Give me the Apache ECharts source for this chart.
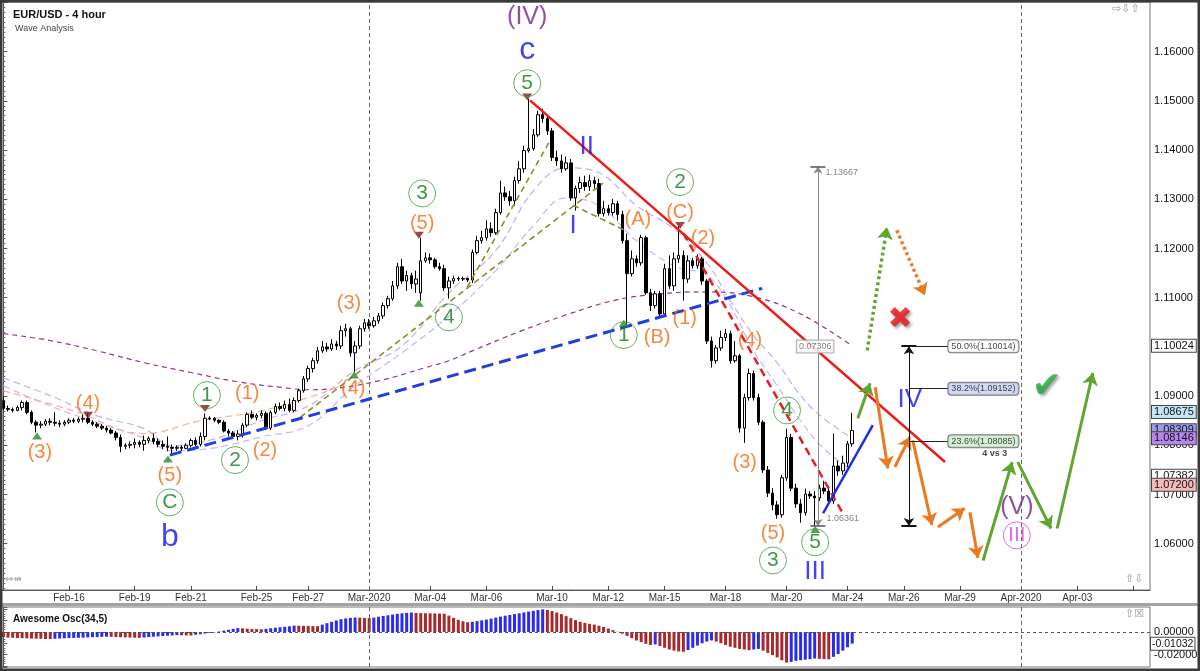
<!DOCTYPE html>
<html>
<head>
<meta charset="utf-8">
<title>EUR/USD - 4 hour</title>
<script src="https://cdn.jsdelivr.net/npm/echarts@6/dist/echarts.min.js"></script>
<style>
  html, body { margin: 0; padding: 0; background: #fff; }
  #chart { width: 1200px; height: 671px; }
</style>
</head>
<body>
<div id="chart"></div>
<script>
// ---- data ----
const N_BARS = 245; // 4-hour slots on the time axis (incl. empty future part)

// date labels: [bar index, label]
const dateTicks = [
  [14, 'Feb-16'], [28, 'Feb-19'], [40, 'Feb-21'], [54, 'Feb-25'], [65, 'Feb-27'],
  [78, 'Mar-2020'], [91, 'Mar-04'], [103, 'Mar-06'], [117, 'Mar-10'], [129, 'Mar-12'],
  [141, 'Mar-15'], [154, 'Mar-18'], [167, 'Mar-20'], [180, 'Mar-24'], [192, 'Mar-26'],
  [204, 'Mar-29'], [217, 'Apr-2020'], [229, 'Apr-03'], [241, '']
];
const monthStarts = [78, 217];

// candles: [open, close, low, high]
const candles = [
  [1.0891,1.0875,1.0871,1.0899],[1.0875,1.0873,1.0869,1.0881],[1.0873,1.0871,1.0867,1.0877],[1.0871,1.0877,1.0869,1.0881],
  [1.0877,1.0887,1.0871,1.0891],[1.0887,1.0867,1.0863,1.0891],[1.0867,1.0847,1.0843,1.0871],[1.0847,1.0841,1.0826,1.0851],
  [1.0841,1.0843,1.0835,1.0849],[1.0843,1.0849,1.0839,1.0853],[1.0849,1.0847,1.0841,1.0855],[1.0847,1.0845,1.0839,1.0867],
  [1.0845,1.0843,1.0837,1.0851],[1.0843,1.0847,1.0839,1.0851],[1.0847,1.0851,1.0843,1.0855],[1.0851,1.0849,1.0845,1.0855],
  [1.0849,1.0853,1.0845,1.0857],[1.0853,1.0855,1.0847,1.0863],[1.0855,1.0847,1.0843,1.0865],[1.0847,1.0843,1.0839,1.0851],
  [1.0843,1.0839,1.0835,1.0847],[1.0839,1.0835,1.0831,1.0843],[1.0835,1.0831,1.0826,1.0839],[1.0831,1.0825,1.0822,1.0835],
  [1.0825,1.0816,1.0810,1.0829],[1.0816,1.0798,1.0786,1.0822],[1.0798,1.0800,1.0792,1.0804],[1.0800,1.0802,1.0794,1.0808],
  [1.0802,1.0806,1.0794,1.0814],[1.0806,1.0802,1.0796,1.0810],[1.0802,1.0810,1.0789,1.0820],[1.0810,1.0814,1.0804,1.0818],
  [1.0814,1.0808,1.0802,1.0824],[1.0808,1.0802,1.0796,1.0814],[1.0802,1.0798,1.0792,1.0810],[1.0798,1.0796,1.0788,1.0818],
  [1.0796,1.0794,1.0780,1.0802],[1.0794,1.0796,1.0789,1.0800],[1.0796,1.0794,1.0788,1.0800],[1.0794,1.0800,1.0792,1.0804],
  [1.0800,1.0810,1.0796,1.0814],[1.0810,1.0802,1.0798,1.0816],[1.0802,1.0818,1.0798,1.0826],[1.0818,1.0855,1.0810,1.0865],
  [1.0855,1.0854,1.0851,1.0859],[1.0855,1.0851,1.0847,1.0857],[1.0851,1.0847,1.0843,1.0853],[1.0847,1.0829,1.0826,1.0851],
  [1.0829,1.0825,1.0818,1.0833],[1.0825,1.0818,1.0813,1.0829],[1.0818,1.0823,1.0810,1.0831],[1.0823,1.0841,1.0816,1.0845],
  [1.0841,1.0863,1.0837,1.0867],[1.0863,1.0857,1.0853,1.0871],[1.0857,1.0861,1.0851,1.0865],[1.0861,1.0865,1.0855,1.0871],
  [1.0865,1.0835,1.0831,1.0869],[1.0835,1.0867,1.0831,1.0871],[1.0867,1.0879,1.0863,1.0885],[1.0879,1.0875,1.0871,1.0887],
  [1.0875,1.0883,1.0869,1.0891],[1.0883,1.0871,1.0867,1.0895],[1.0871,1.0891,1.0867,1.0897],[1.0891,1.0911,1.0887,1.0915],
  [1.0911,1.0935,1.0907,1.0941],[1.0935,1.0956,1.0929,1.0962],[1.0956,1.0972,1.0948,1.0978],[1.0972,1.0992,1.0966,1.1000],
  [1.0992,1.1000,1.0988,1.1012],[1.1000,1.0996,1.0990,1.1008],[1.0996,1.1006,1.0992,1.1016],[1.1006,1.1002,1.0994,1.1012],
  [1.1002,1.1033,1.0996,1.1043],[1.1033,1.1037,1.1021,1.1047],[1.1037,1.0988,1.0980,1.1041],[1.0988,1.1002,1.0948,1.1012],
  [1.1002,1.1037,1.0996,1.1043],[1.1037,1.1049,1.1031,1.1057],[1.1049,1.1043,1.1037,1.1057],[1.1043,1.1053,1.1039,1.1061],
  [1.1053,1.1063,1.1047,1.1069],[1.1063,1.1084,1.1057,1.1090],[1.1084,1.1098,1.1078,1.1104],[1.1098,1.1124,1.1094,1.1134],
  [1.1124,1.1163,1.1118,1.1171],[1.1163,1.1134,1.1128,1.1179],[1.1134,1.1145,1.1114,1.1155],[1.1145,1.1128,1.1118,1.1151],
  [1.1128,1.1138,1.1110,1.1155],[1.1110,1.1175,1.1094,1.1222],[1.1175,1.1181,1.1171,1.1192],[1.1181,1.1177,1.1169,1.1190],
  [1.1177,1.1163,1.1159,1.1181],[1.1163,1.1159,1.1155,1.1171],[1.1159,1.1120,1.1114,1.1167],[1.1120,1.1134,1.1098,1.1143],
  [1.1134,1.1139,1.1128,1.1145],[1.1139,1.1138,1.1134,1.1143],[1.1138,1.1139,1.1134,1.1143],[1.1139,1.1136,1.1132,1.1141],
  [1.1136,1.1192,1.1130,1.1198],[1.1192,1.1216,1.1188,1.1226],[1.1216,1.1222,1.1210,1.1236],[1.1222,1.1240,1.1216,1.1257],
  [1.1240,1.1232,1.1224,1.1253],[1.1232,1.1273,1.1228,1.1281],[1.1273,1.1313,1.1269,1.1338],[1.1313,1.1305,1.1297,1.1326],
  [1.1305,1.1297,1.1287,1.1317],[1.1297,1.1338,1.1287,1.1346],[1.1338,1.1362,1.1332,1.1378],[1.1362,1.1399,1.1354,1.1409],
  [1.1399,1.1403,1.1395,1.1504],[1.1403,1.1431,1.1399,1.1443],[1.1431,1.1472,1.1427,1.1480],[1.1472,1.1464,1.1456,1.1484],
  [1.1464,1.1439,1.1431,1.1472],[1.1439,1.1385,1.1378,1.1445],[1.1385,1.1378,1.1368,1.1399],[1.1378,1.1362,1.1354,1.1391],
  [1.1362,1.1374,1.1358,1.1387],[1.1374,1.1303,1.1297,1.1382],[1.1303,1.1322,1.1277,1.1328],[1.1322,1.1334,1.1313,1.1346],
  [1.1334,1.1326,1.1317,1.1348],[1.1326,1.1338,1.1317,1.1350],[1.1338,1.1332,1.1322,1.1346],[1.1332,1.1271,1.1265,1.1342],
  [1.1271,1.1281,1.1265,1.1297],[1.1281,1.1273,1.1267,1.1289],[1.1273,1.1291,1.1267,1.1301],[1.1291,1.1269,1.1257,1.1297],
  [1.1269,1.1216,1.1210,1.1277],[1.1216,1.1149,1.1043,1.1230],[1.1149,1.1179,1.1143,1.1196],[1.1179,1.1171,1.1163,1.1186],
  [1.1171,1.1222,1.1165,1.1228],[1.1222,1.1110,1.1106,1.1226],[1.1110,1.1084,1.1073,1.1118],[1.1084,1.1108,1.1078,1.1114],
  [1.1108,1.1067,1.1061,1.1114],[1.1067,1.1159,1.1061,1.1169],[1.1159,1.1124,1.1118,1.1186],[1.1124,1.1179,1.1114,1.1192],
  [1.1179,1.1186,1.1171,1.1246],[1.1186,1.1138,1.1094,1.1196],[1.1138,1.1175,1.1130,1.1186],[1.1175,1.1165,1.1159,1.1181],
  [1.1165,1.1179,1.1159,1.1188],[1.1179,1.1134,1.1126,1.1183],[1.1134,1.1012,1.1006,1.1138],[1.1012,1.0972,1.0958,1.1021],
  [1.0972,1.0998,1.0966,1.1004],[1.0998,1.1019,1.0992,1.1033],[1.1019,1.1027,1.1012,1.1037],[1.1027,1.0972,1.0966,1.1033],
  [1.0972,1.0982,1.0968,1.1012],[1.0982,1.0835,1.0826,1.0986],[1.0835,1.0897,1.0805,1.0905],[1.0897,1.0946,1.0891,1.0956],
  [1.0946,1.0897,1.0891,1.0952],[1.0897,1.0847,1.0841,1.0905],[1.0847,1.0750,1.0744,1.0851],[1.0750,1.0703,1.0695,1.0758],
  [1.0703,1.0679,1.0668,1.0713],[1.0679,1.0659,1.0651,1.0687],[1.0659,1.0734,1.0653,1.0740],[1.0734,1.0816,1.0728,1.0834],
  [1.0816,1.0713,1.0707,1.0823],[1.0713,1.0681,1.0673,1.0722],[1.0681,1.0663,1.0643,1.0691],[1.0663,1.0701,1.0657,1.0712],
  [1.0701,1.0697,1.0691,1.0707],[1.0697,1.0693,1.0636,1.0707],[1.0693,1.0713,1.0687,1.0720],[1.0713,1.0707,1.0701,1.0728],
  [1.0707,1.0687,1.0681,1.0716],[1.0687,1.0758,1.0681,1.0824],[1.0758,1.0748,1.0738,1.0769],[1.0748,1.0764,1.0740,1.0779],
  [1.0764,1.0803,1.0756,1.0809],[1.0803,1.0830,1.0797,1.0866]
];

// Awesome Oscillator (34,5), one value per candle
const aoValues = [
  -0.0045,-0.0050,-0.0052,-0.0054,-0.0055,-0.0056,-0.0058,-0.0059,-0.0060,-0.0062,-0.0063,
  -0.0060,-0.0058,-0.0056,-0.0054,-0.0053,-0.0052,-0.0050,-0.0048,-0.0046,-0.0045,-0.0043,-0.0042,
  -0.0043,-0.0045,-0.0047,-0.0048,-0.0050,-0.0051,-0.0052,
  -0.0049,-0.0045,-0.0042,-0.0039,-0.0036,-0.0033,-0.0030,-0.0028,
  -0.0029,-0.0030,-0.0031,
  -0.0025,-0.0020,-0.0014,-0.0008,-0.0003,0.0004,0.0012,
  0.0020,0.0028,0.0034,
  0.0032,0.0029,0.0026,0.0025,0.0024,
  0.0028,0.0033,0.0038,0.0042,0.0046,0.0050,0.0056,
  0.0055,0.0054,0.0053,0.0052,0.0051,
  0.0065,0.0078,0.0090,0.0102,0.0113,0.0120,0.0125,0.0128,
  0.0126,0.0124,0.0123,
  0.0128,0.0135,0.0142,0.0148,0.0154,0.0160,0.0165,0.0169,0.0172,
  0.0169,0.0167,0.0166,0.0165,0.0164,0.0163,0.0162,
  0.0145,0.0125,0.0108,0.0095,0.0086,
  0.0090,0.0096,0.0103,0.0110,0.0118,0.0127,0.0136,0.0144,0.0150,
  0.0158,0.0165,0.0173,0.0180,0.0187,0.0194,0.0200,
  0.0195,0.0186,0.0172,0.0158,0.0140,0.0122,0.0105,0.0090,0.0080,0.0072,
  0.0065,0.0055,0.0045,0.0030,0.0016,
  0.0002,-0.0015,-0.0035,-0.0055,-0.0075,-0.0090,-0.0105,-0.0115,
  -0.0110,
  -0.0125,-0.0140,-0.0155,-0.0165,-0.0172,-0.0175,
  -0.0160,-0.0140,-0.0120,-0.0100,-0.0085,-0.0075,
  -0.0085,-0.0100,-0.0115,-0.0130,-0.0140,-0.0150,-0.0155,-0.0160,
  -0.0155,-0.0150,
  -0.0165,-0.0185,-0.0205,-0.0225,-0.0250,-0.0270,
  -0.0265,-0.0255,-0.0250,-0.0245,-0.0240,-0.0235,
  -0.0238,-0.0240,-0.0242,
  -0.0220,-0.0195,-0.0165,-0.0135,-0.01032
];

// moving averages, read at selected candles: [bar, price]
const maSlow = [[0,1.1027],[10,1.1013],[20,1.0992],[30,1.0968],[40,1.0948],[50,1.0929],[60,1.0917],[65,1.0913],
  [70,1.0915],[80,1.0931],[90,1.0958],[95,1.0972],[100,1.0992],[110,1.1031],[120,1.1065],[130,1.1094],[140,1.1108],
  [150,1.1112],[160,1.1102],[170,1.1067],[181,1.1002]];
const maFast = [[0,1.0937],[10,1.0901],[20,1.0860],[30,1.0834],[36,1.0799],[45,1.0813],[55,1.0850],[65,1.0880],
  [75,1.0952],[85,1.1002],[95,1.1110],[105,1.1196],[113,1.1317],[120,1.1364],[127,1.1354],[135,1.1287],[143,1.1240],
  [150,1.1171],[155,1.1094],[160,1.1023],[165,1.0968],[170,1.0901],[175,1.0854],[181,1.0815]];
const maMid = [[0,1.0921],[10,1.0880],[20,1.0846],[30,1.0815],[36,1.0789],[45,1.0795],[55,1.0817],[65,1.0840],
  [75,1.0921],[85,1.0988],[95,1.1063],[105,1.1155],[113,1.1246],[120,1.1303],[127,1.1287],[135,1.1216],[143,1.1165],
  [150,1.1145],[155,1.1084],[160,1.0992],[165,1.0921],[170,1.0850],[175,1.0793],[181,1.0748]];
const maBand = [[0,1.0911],[15,1.0870],[30,1.0824],[42,1.0850],[55,1.0870],[65,1.0897],[72,1.0921]];

// price tags on the right scale
const priceTags = [1.10024, 1.08675, 1.08309, 1.08146, 1.07382, 1.07200];
const tagFills = ['#ffffff', '#c4e6f6', '#9d9cf2', '#b486ee', '#ffffff', '#f5b9b9'];

// wave labels: [bar, price, text]
const orangeWaves = [
  [7.8,1.0786,'(3)'],[18.05,1.0886,'(4)'],[35.5,1.0739,'(5)'],[52.0,1.0906,'(1)'],[55.8,1.0790,'(2)'],
  [73.7,1.1089,'(3)'],[74.6,1.0916,'(4)'],[89.3,1.1251,'(5)'],[135.3,1.1258,'(A)'],[139.4,1.1020,'(B)'],
  [144.3,1.1274,'(C)'],[145.3,1.1058,'(1)'],[149.2,1.1221,'(2)'],[158.1,1.0766,'(3)'],[159.2,1.1014,'(4)'],
  [164.1,1.0621,'(5)']
];
const greenWaves = [
  [35.5,1.0684,'C'],[43.4,1.0902,'1'],[49.4,1.0770,'2'],[89.3,1.1312,'3'],[95.0,1.1060,'4'],
  [111.7,1.1536,'5'],[132.3,1.1024,'1'],[144.3,1.1335,'2'],[164.1,1.0566,'3'],[167.1,1.0871,'4'],
  [173.1,1.0603,'5']
];
const blueLetters = [[35.5,1.0613,'b'],[111.7,1.1603,'c']];
const blueNumerals = [[121.5,1.1247,'I'],[124.4,1.1406,'II'],[173.1,1.0542,'III'],[193.3,1.0892,'IV']];
const purpleWaves = [[111.7,1.1670,'(IV)'],[216.1,1.0674,'(V)']];
const magentaWaves = [[216.1,1.0617,'III']];
const lowMarks = [[7.2,1.0819],[35.1,1.0772],[74.8,1.0943],[88.6,1.1089],[132.3,1.1048],[173.1,1.0629]];
const highMarks = [[18.05,1.0861],[43.0,1.0875],[88.6,1.1227],[111.7,1.1508],[144.3,1.1247]];

// drawn lines: each segment [[bar, price], [bar, price]]
const blueDashed = [[[35.5,1.0780],[161.8,1.1119]]];
const redSolid = [[[112.3,1.1501],[200.8,1.0766]]];
const redDashed = [[[145.0,1.1231],[179.0,1.0662]]];
const blueSolid = [[[174.8,1.0662],[185.4,1.0841]]];
const oliveDashed = [[[63.3,1.0857],[127.9,1.1333]],[[98.9,1.1121],[116.6,1.1420]],[[121.5,1.1288],[132.5,1.1237]]];
const greenDotted = [[[184.2,1.0993],[188.4,1.1243]]];
const orangeDotted = [[[190.5,1.1237],[196.5,1.1105]]];
const orangeArrows = [
  [[185.9,1.0918],[188.6,1.0753]],[[190.1,1.0756],[193.3,1.0817]],[[193.9,1.0810],[198.0,1.0638]],
  [[199.3,1.0634],[205.0,1.0672]],[[206.1,1.0664],[207.8,1.0571]]
];
const greenArrows = [
  [[182.2,1.0855],[184.8,1.0926]],[[208.9,1.0566],[215.1,1.0766]],[[216.3,1.0766],[223.4,1.0631]],
  [[224.7,1.0631],[232.3,1.0947]]
];

// swing measured for the fibonacci tool
const swingHigh = 1.13667, swingLow = 1.06361;
const fibRatios = [0.5, 0.382, 0.236];
const fibFills = ['#ffffff', '#c9d0f3', '#cdeccd'];
const measureBar = 173.7, fibBar = 193.1;

// ---- build chart ----
const FONT = '"Liberation Sans", Arial, sans-serif';
const tickMap = new Map(dateTicks);
const categories = Array.from({ length: N_BARS }, (_, i) => String(i));
const onStep = (v, step) => Math.abs(v / step - Math.round(v / step)) < 1e-6;

function segs(name, data, color, width, type, arrow, size) {
  return {
    type: 'lines', name, coordinateSystem: 'cartesian2d', xAxisIndex: 1, yAxisIndex: 0,
    silent: true, z: 5,
    symbol: arrow || ['none', 'none'], symbolSize: size || 11,
    lineStyle: { color, width, type, opacity: 1, curveness: 0 },
    data: data.map(s => ({ coords: s }))
  };
}

function textSeries(name, data, color, size, labelExtra) {
  return {
    type: 'scatter', name, xAxisIndex: 1, yAxisIndex: 0, silent: true, z: 7,
    symbolSize: 1, itemStyle: { color: 'rgba(0,0,0,0)' },
    label: Object.assign({ show: true, position: 'inside', formatter: p => p.data[2], color, fontSize: size, fontFamily: FONT }, labelExtra || {}),
    data
  };
}

function circled(name, data, color, textColor) {
  return {
    type: 'scatter', name, xAxisIndex: 1, yAxisIndex: 0, silent: true, z: 7,
    symbol: 'circle', symbolSize: 27,
    itemStyle: { color: 'rgba(255,255,255,0)', borderColor: color, borderWidth: 1 },
    label: { show: true, position: 'inside', formatter: p => p.data[2], color: textColor, fontSize: 21, fontFamily: FONT },
    data
  };
}

function maLine(name, data, color, dash) {
  return {
    type: 'line', name, xAxisIndex: 1, yAxisIndex: 0, smooth: 0.4, showSymbol: false, silent: true, z: 2,
    lineStyle: { color, width: 1.2, type: dash }, data
  };
}

const fibLevels = fibRatios.map(r => swingLow + r * (swingHigh - swingLow));

const aoData = aoValues.map((v, i) => ({
  value: v,
  itemStyle: { color: (i > 0 && v > aoValues[i - 1]) ? '#2b2bee' : '#a8282c' }
}));

const tagLabel = {
  show: true, position: 'end', distance: 2, formatter: p => Number(p.value).toFixed(5),
  fontSize: 11, color: '#111', fontFamily: FONT, padding: [1, 2, 0, 2],
  borderColor: '#444', borderWidth: 1
};

const option = {
  animation: false,
  backgroundColor: '#fff',
  textStyle: { fontFamily: FONT },
  title: [
    { text: 'EUR/USD - 4 hour', left: 8, top: 4, textStyle: { fontSize: 11, fontWeight: 'bold', color: '#111', fontFamily: FONT } },
    { text: 'Wave Analysis', left: 10, top: 19, textStyle: { fontSize: 9, fontWeight: 'normal', color: '#444', fontFamily: FONT } },
    { text: 'Awesome Osc(34,5)', left: 8, top: 609, textStyle: { fontSize: 10, fontWeight: 'bold', color: '#111', fontFamily: FONT } }
  ],
  grid: [
    { left: 1, right: 50, top: 2, bottom: 81, show: true, borderColor: '#777', borderWidth: 1, backgroundColor: '#fff', outerBoundsMode: 'none' },
    { left: 1, right: 50, top: 607, bottom: 4, show: true, borderColor: '#777', borderWidth: 1, backgroundColor: '#fff', outerBoundsMode: 'none' }
  ],
  xAxis: [
    {
      type: 'category', gridIndex: 0, data: categories, boundaryGap: true,
      axisLine: { show: true, lineStyle: { color: '#555' } },
      axisTick: { show: true, inside: true, length: 4, alignWithLabel: true, interval: i => tickMap.has(i), lineStyle: { color: '#444' } },
      axisLabel: { interval: i => tickMap.has(i), formatter: v => tickMap.get(+v) || '', fontSize: 10, color: '#333', margin: 3, fontFamily: FONT },
      splitLine: { show: false }
    },
    { type: 'value', gridIndex: 0, min: -0.5, max: N_BARS - 0.5, show: false },
    { type: 'category', gridIndex: 1, data: categories, boundaryGap: true, show: false },
    { type: 'value', gridIndex: 1, min: -0.5, max: N_BARS - 0.5, show: false }
  ],
  yAxis: [
    {
      type: 'value', gridIndex: 0, position: 'right', min: 1.0506, max: 1.1701,
      minInterval: 0.01, maxInterval: 0.01, scale: true,
      splitLine: { show: false },
      axisLine: { show: true, lineStyle: { color: '#555' } },
      axisTick: { show: true, length: 4, lineStyle: { color: '#555' } },
      minorTick: { show: true, splitNumber: 10, length: 2, lineStyle: { color: '#666' } },
      axisLabel: {
        formatter: v => (onStep(v, 0.01) && v > 1.055 && v < 1.165) ? v.toFixed(5) : '',
        showMinLabel: false, showMaxLabel: false,
        fontSize: 11, color: '#111', margin: 4, fontFamily: FONT
      }
    },
    {
      type: 'value', gridIndex: 1, position: 'right', min: -0.031, max: 0.0221,
      minInterval: 0.01, maxInterval: 0.01, scale: true,
      splitLine: { show: false },
      axisLine: { show: true, lineStyle: { color: '#555' } },
      axisTick: { show: true, length: 4, lineStyle: { color: '#555' } },
      minorTick: { show: true, splitNumber: 5, length: 2, lineStyle: { color: '#666' } },
      axisLabel: {
        formatter: v => Math.abs(v) < 1e-9 ? '0.00000' : (Math.abs(v + 0.02) < 1e-9 ? v.toFixed(5) : ''),
        showMinLabel: false, showMaxLabel: false,
        fontSize: 11, color: '#111', margin: 4, fontFamily: FONT
      }
    }
  ],
  series: [
    maLine('ma slow', maSlow, '#93368f', [5, 4]),
    maLine('ma fast', maFast, '#c3aef2', [7, 4]),
    maLine('ma mid', maMid, '#c9b6f4', [7, 4]),
    maLine('ma band', maBand, '#f6b09c', [7, 4]),
    {
      type: 'candlestick', name: 'EUR/USD', xAxisIndex: 0, yAxisIndex: 0, z: 3,
      barWidth: 3,
      itemStyle: { color: '#ffffff', color0: '#000000', borderColor: '#000000', borderColor0: '#000000', borderWidth: 1 },
      data: candles,
      markLine: {
        silent: true, symbol: 'none', animation: false, precision: 5,
        lineStyle: { color: 'rgba(0,0,0,0)', width: 0 },
        label: tagLabel,
        data: priceTags.map((v, i) => ({ yAxis: v, label: { backgroundColor: tagFills[i] } }))
      }
    },
    segs('olive', oliveDashed, '#8f8d2b', 1.6, [6, 4]),
    segs('blue dashed', blueDashed, '#1f3fe0', 3, [12, 6]),
    segs('red', redSolid, '#ec1c1c', 2.5, 'solid'),
    segs('red dashed', redDashed, '#ec1c1c', 2.5, [8, 5]),
    segs('blue', blueSolid, '#1c2ee8', 2.5, 'solid'),
    segs('green dotted', greenDotted, '#5fa530', 3.5, [3, 3], ['none', 'arrow'], 12),
    segs('orange dotted', orangeDotted, '#ea7a22', 3.5, [3, 3], ['none', 'arrow'], 12),
    segs('orange', orangeArrows, '#ea7a22', 3, 'solid', ['none', 'arrow'], 12),
    segs('green', greenArrows, '#5fa530', 3, 'solid', ['none', 'arrow'], 12),
    // measuring tool
    segs('measure', [[[measureBar, swingHigh], [measureBar, swingLow]]], '#8a8a8a', 1, 'solid', ['arrow', 'arrow'], 7),
    segs('measure caps', [[[measureBar - 1.6, swingHigh], [measureBar + 1.6, swingHigh]], [[measureBar - 1.6, swingLow], [measureBar + 1.6, swingLow]]], '#555', 1.5, 'solid'),
    // fibonacci tool
    segs('fib stem', [[[fibBar, fibLevels[0]], [fibBar, swingLow]]], '#111', 1, 'solid', ['arrow', 'arrow'], 8),
    segs('fib caps', [[[fibBar - 1.6, fibLevels[0]], [fibBar + 1.6, fibLevels[0]]], [[fibBar - 1.6, swingLow], [fibBar + 1.6, swingLow]]], '#111', 2, 'solid'),
    segs('fib levels', fibLevels.map(v => [[fibBar, v], [201.4, v]]), '#222', 1, 'solid'),
    {
      type: 'scatter', name: 'fib labels', xAxisIndex: 1, yAxisIndex: 0, silent: true, z: 7,
      symbolSize: 1, itemStyle: { color: 'rgba(0,0,0,0)' },
      label: {
        show: true, position: 'right', distance: 0, fontSize: 9, color: '#111', fontFamily: FONT,
        padding: [2, 3, 1, 3], borderColor: '#555', borderWidth: 1, borderRadius: 3,
        formatter: p => (fibRatios[p.dataIndex] * 100).toFixed(1) + '%(' + fibLevels[p.dataIndex].toFixed(5) + ')'
      },
      data: fibLevels.map((v, i) => ({ value: [201.4, v], label: { backgroundColor: fibFills[i] } }))
    },
    textSeries('vs', [[211.4, 1.0784, '4 vs 3']], '#111', 9, { fontWeight: 'bold' }),
    {
      type: 'scatter', name: 'measure labels', xAxisIndex: 1, yAxisIndex: 0, silent: true, z: 7,
      symbolSize: 1, itemStyle: { color: 'rgba(0,0,0,0)' },
      label: { show: true, position: 'right', distance: 0, fontSize: 9, color: '#666', fontFamily: FONT, formatter: p => p.data[2] },
      data: [[175.2, 1.1355, swingHigh.toFixed(5)], [175.4, 1.0652, swingLow.toFixed(5)]]
    },
    textSeries('range', [[173.1, 1.1001, (swingHigh - swingLow).toFixed(5)]], '#666', 9,
      { backgroundColor: '#fff', borderColor: '#999', borderWidth: 1, padding: [2, 2, 1, 2] }),
    // wave labels
    textSeries('orange waves', orangeWaves, '#f26c12', 20),
    circled('green waves', greenWaves, '#3a9e3a', '#10801a'),
    circled('magenta waves', magentaWaves, '#e23fe2', '#e23fe2'),
    textSeries('blue letters', blueLetters, '#1414f2', 32),
    textSeries('blue numerals', blueNumerals, '#1414f2', 26),
    textSeries('purple waves', purpleWaves, '#74238a', 25),
    textSeries('invalid', [[191.2, 1.1054, '\u2716']], '#e8141c', 30,
      { fontFamily: 'DejaVu Sans', textShadowColor: 'rgba(0,0,0,0.45)', textShadowBlur: 3, textShadowOffsetX: 2, textShadowOffsetY: 2 }),
    textSeries('valid', [[222.5, 1.0918, '\u2714']], '#20a83c', 36,
      { fontFamily: 'DejaVu Sans', textShadowColor: 'rgba(0,0,0,0.45)', textShadowBlur: 3, textShadowOffsetX: 2, textShadowOffsetY: 2 }),
    {
      type: 'scatter', name: 'lows', xAxisIndex: 1, yAxisIndex: 0, silent: true, z: 6,
      symbol: 'triangle', symbolSize: [10, 7], itemStyle: { color: '#2b8a2b' }, data: lowMarks
    },
    {
      type: 'scatter', name: 'highs', xAxisIndex: 1, yAxisIndex: 0, silent: true, z: 6,
      symbol: 'triangle', symbolRotate: 180, symbolSize: [10, 7], itemStyle: { color: '#7a1d14' }, data: highMarks,
      markLine: {
        silent: true, symbol: 'none', label: { show: false },
        lineStyle: { color: '#666', type: [4, 3], width: 1 },
        data: monthStarts.map(b => ({ xAxis: b }))
      }
    },
    // Awesome oscillator pane
    {
      type: 'bar', name: 'AO', xAxisIndex: 2, yAxisIndex: 1, barWidth: 3, silent: true,
      data: aoData,
      markLine: {
        silent: true, symbol: 'none', precision: 5,
        lineStyle: { color: '#555', type: [3, 3], width: 1 },
        label: { show: false },
        data: [{ yAxis: 0 }]
      }
    },
    {
      type: 'scatter', name: 'AO tag', xAxisIndex: 3, yAxisIndex: 1, silent: true,
      symbolSize: 0, data: [[0, 0]],
      markLine: {
        silent: true, symbol: 'none', animation: false, precision: 5,
        lineStyle: { color: '#666', type: [4, 3], width: 1 },
        label: { show: false },
        data: monthStarts.map(b => ({ xAxis: b })).concat([{
          yAxis: aoValues[aoValues.length - 1],
          lineStyle: { color: 'rgba(0,0,0,0)', width: 0 },
          label: Object.assign({}, tagLabel, { backgroundColor: '#fff', fontSize: 10.5, padding: [1, 1, 0, 1], distance: 1 })
        }])
      }
    }
  ],
  graphic: [
    { type: 'rect', z: 100, silent: true, shape: { x: 0, y: 603, width: 1200, height: 3 }, style: { fill: '#a3a3a3' } },
    { type: 'rect', z: 100, silent: true, shape: { x: 1, y: 1, width: 1198, height: 669 }, style: { fill: 'none', stroke: '#3a3a3a', lineWidth: 3 } },
    { type: 'text', z: 100, silent: true, left: 1112, top: 4, style: { text: '\u21E8\u21E9\u21E7', fill: '#999', fontSize: 11, fontFamily: 'DejaVu Sans' } },
    { type: 'text', z: 100, silent: true, left: 1125, top: 574, style: { text: '\u21E7\u21E9', fill: '#999', fontSize: 11, fontFamily: 'DejaVu Sans' } },
    { type: 'text', z: 100, silent: true, left: 5, top: 574, style: { text: '\u21D4\u21CE', fill: '#999', fontSize: 10, fontFamily: 'DejaVu Sans' } },
    { type: 'text', z: 100, silent: true, left: 1125, top: 609, style: { text: '\u21E7\u2612', fill: '#999', fontSize: 11, fontFamily: 'DejaVu Sans' } }
  ]
};

const chart = echarts.init(document.getElementById('chart'));
chart.setOption(option);
</script>
</body>
</html>
